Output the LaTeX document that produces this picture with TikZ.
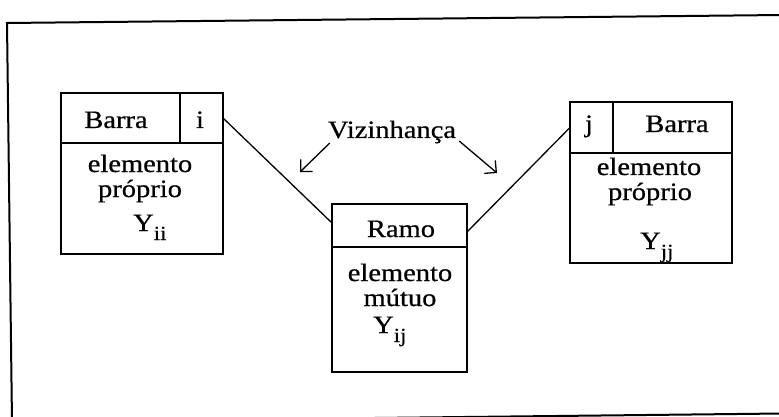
\documentclass[tikz,border=0pt]{standalone}
\usepackage{fontspec}
\newfontfamily\tnr{Liberation Serif}[FakeStretch=1.14, FakeBold=0.6]
\usetikzlibrary{arrows.meta}
\newcommand\lblsize{\fontsize{25}{29}\selectfont}
\newcommand\ysub[1]{\raisebox{-9pt}{\tnr\fontsize{20}{20}\selectfont #1}}

\begin{document}
\begin{tikzpicture}[x=1pt,y=-1pt,
  cell/.style={draw, line width=1.4pt, inner sep=0pt, outer sep=0pt, anchor=north west},
  txt/.style={inner sep=0pt, anchor=base, font=\tnr\lblsize},
  link/.style={line width=1.3pt},
  arr/.style={line width=1.3pt, -{Straight Barb[angle=90:12pt, line width=1.3pt]}},
  frame/.style={line width=2pt, line join=miter}]

\useasboundingbox (0,0) rectangle (779,417);

% outer frame (slightly skewed, running off the right and bottom)
\begin{scope}
  \clip (0,0) rectangle (779,417);
  \draw[frame] (782,15) -- (7,23) -- (12,422) -- (782,413.5);
\end{scope}

% left bus: Barra | i
\node[cell, minimum width=119pt, minimum height=50pt] (lname) at (61,93) {};
\node[cell, minimum width=43pt, minimum height=50pt] (lidx) at (lname.north east) {};
\node[cell, minimum width=162pt, minimum height=111pt] (lbody) at (lname.south west) {};

% branch: Ramo
\node[cell, minimum width=135pt, minimum height=43pt] (mname) at (332,204) {};
\node[cell, minimum width=135pt, minimum height=125pt] (mbody) at (mname.south west) {};

% right bus: j | Barra
\node[cell, minimum width=43pt, minimum height=51pt] (ridx) at (570,102) {};
\node[cell, minimum width=119pt, minimum height=51pt] (rname) at (ridx.north east) {};
\node[cell, minimum width=162pt, minimum height=110pt] (rbody) at (ridx.south west) {};

% texts of the left bus
\node[txt] (lt1) at (116,128) {Barra};
\node[txt] (lt2) at (200,128) {i};
\node[txt] (lt3) at (140,172) {elemento};
\node[txt] (lt4) at (140,197) {próprio};
\node[txt, anchor=base west] (lt5) at (133,231) {Y\ysub{ii}};

% texts of the branch
\node[txt] (mt1) at (401,237) {Ramo};
\node[txt] (mt2) at (400,281) {elemento};
\node[txt] (mt3) at (400,306) {mútuo};
\node[txt, anchor=base west] (mt4) at (373,333) {Y\ysub{ij}};

% texts of the right bus
\node[txt] (rt1) at (589,132) {j};
\node[txt] (rt2) at (677,132) {Barra};
\node[txt] (rt3) at (649,175) {elemento};
\node[txt] (rt4) at (650,200) {próprio};
\node[txt, anchor=base west] (rt5) at (640,249) {Y\ysub{jj}};

% neighbourhood label and its arrows
\node[txt] (viz) at (392,138) {Vizinhança};
\coordinate (vl) at (300,172);
\coordinate (vr) at (497,173);
\draw[arr] ([xshift=2pt,yshift=0.5pt]viz.south west) -- (vl);
\draw[arr] ([xshift=3pt,yshift=2.5pt]viz.south east) -- (vr);

% links bus - branch - bus
\draw[link] (lidx.east) -- ([yshift=2.5pt]mname.west);
\draw[link] ([yshift=-6.5pt]mname.east) -- (ridx.west);

\end{tikzpicture}
\end{document}
